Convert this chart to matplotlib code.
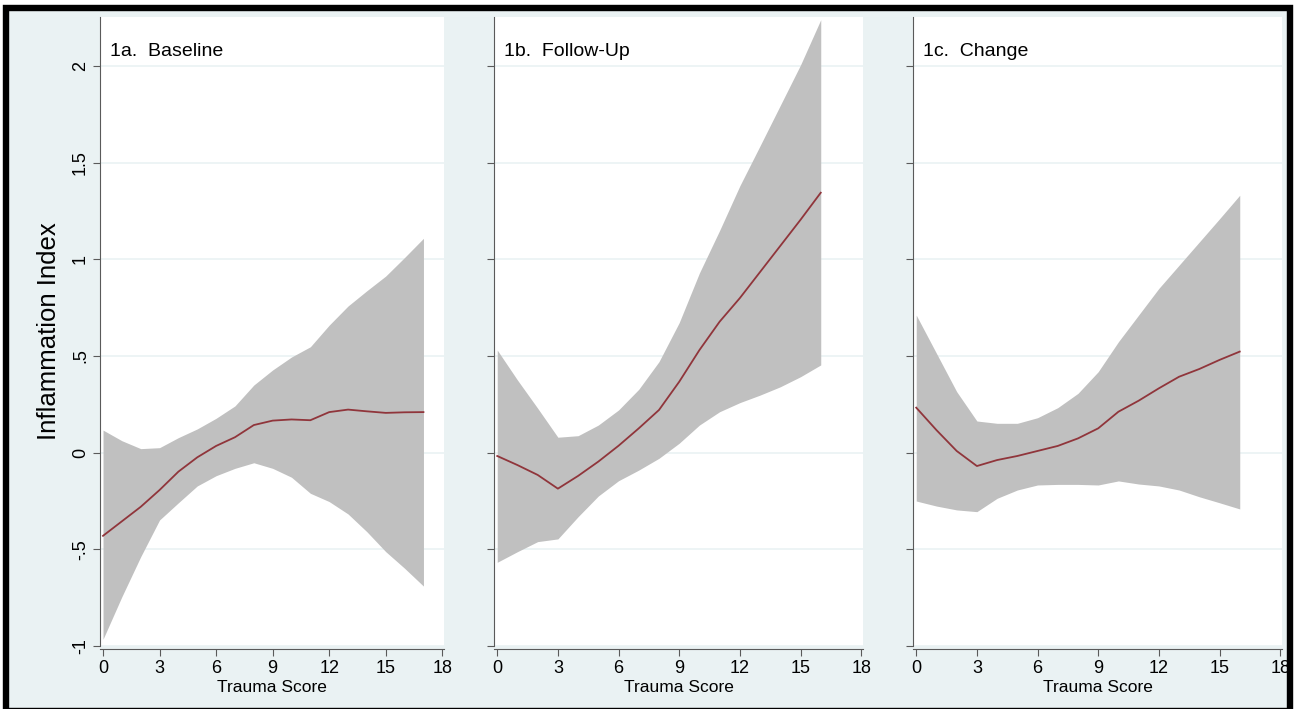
import matplotlib
matplotlib.use("Agg")
from matplotlib import pyplot as plt
from matplotlib.patches import Rectangle

plt.rcParams['font.family'] = ['Liberation Sans', 'DejaVu Sans']

# trauma score grid
x_base = list(range(0, 18))
x_follow = list(range(0, 17))
x_change = list(range(0, 17))

# 1a baseline
base_fit = [-0.43, -0.355, -0.28, -0.193, -0.098, -0.024, 0.035, 0.08, 0.143, 0.166,
            0.172, 0.168, 0.21, 0.223, 0.214, 0.206, 0.209, 0.21]
base_hi = [0.117, 0.062, 0.021, 0.026, 0.078, 0.123, 0.178, 0.242, 0.35, 0.428,
           0.495, 0.548, 0.66, 0.759, 0.838, 0.914, 1.01, 1.109]
base_lo = [-0.965, -0.745, -0.538, -0.348, -0.259, -0.172, -0.119, -0.081, -0.052, -0.081,
           -0.127, -0.21, -0.253, -0.317, -0.409, -0.512, -0.598, -0.69]

# 1b follow-up
follow_fit = [-0.017, -0.064, -0.115, -0.186, -0.12, -0.046, 0.036, 0.126, 0.221, 0.367,
              0.531, 0.678, 0.80, 0.935, 1.07, 1.205, 1.345]
follow_hi = [0.531, 0.376, 0.23, 0.08, 0.088, 0.143, 0.221, 0.328, 0.471, 0.673,
             0.93, 1.15, 1.381, 1.588, 1.797, 2.006, 2.24]
follow_lo = [-0.567, -0.512, -0.46, -0.446, -0.331, -0.224, -0.145, -0.09, -0.029, 0.049,
             0.143, 0.212, 0.259, 0.298, 0.341, 0.393, 0.454]

# 1c change
change_fit = [0.233, 0.117, 0.009, -0.069, -0.038, -0.017, 0.009, 0.035, 0.074, 0.126,
              0.212, 0.269, 0.333, 0.393, 0.433, 0.48, 0.523]
change_hi = [0.712, 0.514, 0.316, 0.164, 0.152, 0.152, 0.181, 0.233, 0.307, 0.419,
             0.574, 0.712, 0.85, 0.97, 1.09, 1.21, 1.332]
change_lo = [-0.25, -0.276, -0.296, -0.305, -0.236, -0.193, -0.167, -0.164, -0.164, -0.167,
             -0.146, -0.162, -0.172, -0.193, -0.228, -0.259, -0.291]

panels = [
    ("1a.  Baseline", x_base, base_fit, base_lo, base_hi),
    ("1b.  Follow-Up", x_follow, follow_fit, follow_lo, follow_hi),
    ("1c.  Change", x_change, change_fit, change_lo, change_hi),
]

yticks = [-1, -0.5, 0, 0.5, 1, 1.5, 2]
ytick_labels = ["-1", "-.5", "0", ".5", "1", "1.5", "2"]
xticks = [0, 3, 6, 9, 12, 15, 18]

W, H = 1302, 709
fig = plt.figure(figsize=(W / 100, H / 100), dpi=100, facecolor='white')

# outer frame (bottom edge mostly off the image, like the original)
fig.patches.append(Rectangle((6 / W, -2 / H), 1284 / W, 1 - 5.5 / H, transform=fig.transFigure,
                             facecolor='#EAF2F3', edgecolor='black', linewidth=4.6, zorder=-10))

bg = '#EAF2F3'
axis_col = '#5a5a5a'
lefts = [100, 494, 913]
widths = [344, 369, 369]
top, bottom = 17, 646

for i, (title, xs, fit, lo, hi) in enumerate(panels):
    ax = fig.add_axes([lefts[i] / W, (H - bottom) / H, widths[i] / W, (bottom - top) / H])
    ax.set_facecolor('white')
    ax.fill_between(xs, lo, hi, color='#C0C0C0', linewidth=0, zorder=2)
    ax.plot(xs, fit, color='#90353B', linewidth=1.3, zorder=3)
    ax.set_xlim(-0.16, 18.09)
    ax.set_ylim(-1.0, 2.254)
    ax.set_yticks(yticks)
    ax.set_xticks(xticks)
    ax.grid(axis='y', color=bg, linewidth=1.2, zorder=1)
    ax.set_axisbelow(True)
    for s in ['top', 'right']:
        ax.spines[s].set_visible(False)
    ax.spines['left'].set_color(axis_col)
    ax.spines['bottom'].set_color(axis_col)
    ax.spines['bottom'].set_position(('outward', 2))
    ax.tick_params(axis='both', direction='out', length=5, color=axis_col,
                   labelsize=13, pad=3)
    if i == 0:
        ax.set_yticklabels(ytick_labels, rotation=90, va='center')
        ax.set_ylabel('Inflammation Index', fontsize=18.5, labelpad=8)
    else:
        ax.set_yticklabels([])
    ax.set_xlabel('Trauma Score', fontsize=12.5, labelpad=2)
    ax.text(10 / widths[i], 1 - 35 / (bottom - top), title, transform=ax.transAxes,
            fontsize=14, va='center', ha='left')

plt.savefig('out.png', dpi=100, facecolor=fig.get_facecolor())
